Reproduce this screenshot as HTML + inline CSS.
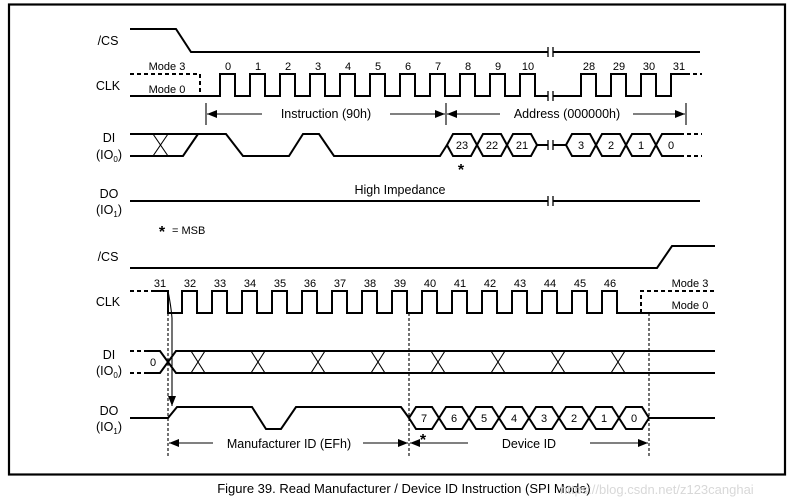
<!DOCTYPE html>
<html><head><meta charset="utf-8"><style>
html,body{margin:0;padding:0;background:#fff;}
svg{display:block;}
text{font-family:"Liberation Sans",Arial,sans-serif;fill:#000;}
</style></head><body>
<svg width="792" height="501" viewBox="0 0 792 501" xmlns="http://www.w3.org/2000/svg">
<defs>
<marker id="ar" markerWidth="10" markerHeight="8" refX="10" refY="4" orient="auto" markerUnits="userSpaceOnUse"><path d="M0,0 L10,4 L0,8 Z" fill="#000"/></marker>
</defs>
<rect x="9" y="4.5" width="776" height="470" fill="none" stroke="#000" stroke-width="2.2"/>

<g fill="none" stroke="#000" stroke-width="2" stroke-linejoin="miter">
<path d="M130 29 H176 L191 52 H548 M553 52 H700"/>
<path d="M130 96 H220 V74 H235 V96 H250 V74 H265 V96 H280 V74 H295 V96 H310 V74 H325 V96 H340 V74 H355 V96 H370 V74 H385 V96 H400 V74 H415 V96 H430 V74 H445 V96 H460 V74 H475 V96 H490 V74 H505 V96 H520 V74 H535 V96 H548"/>
<path d="M553 96 H581 V74 H596 V96 H611 V74 H626 V96 H641 V74 H656 V96 H671 V74 H686"/>
<path d="M686 74 H702 M130 74 H200 V96" stroke-dasharray="4,3"/>
<path d="M130 134 H226 L243 156 H289 L303 134 H319 L334 156 H440 L447 145"/>
<path d="M130 156 H183 L198 134"/>
<path d="M447 145 L453 134 H471 L477 145 L471 156 H453 Z M477 145 L483 134 H501 L507 145 L501 156 H483 Z M507 145 L513 134 H531 L537 145 L531 156 H513 Z M537 145 H548"/>
<path d="M553 145 H566 M566 145 L572 134 H590 L596 145 L590 156 H572 Z M596 145 L602 134 H620 L626 145 L620 156 H602 Z M626 145 L632 134 H650 L656 145 L650 156 H632 Z M680 134 H662 L656 145 L662 156 H680"/>
<path d="M680 134 H702 M680 156 H702" stroke-dasharray="4,3"/>
<path d="M130 201 H548 M553 201 H700"/>

<path d="M130 268 H657 L672 246 H715"/>
<path d="M155 291 H168 V313 H182 V291 H197 V313 H212 V291 H227 V313 H242 V291 H257 V313 H272 V291 H287 V313 H302 V291 H317 V313 H332 V291 H347 V313 H362 V291 H377 V313 H392 V291 H407 V313 H422 V291 H437 V313 H452 V291 H467 V313 H482 V291 H497 V313 H512 V291 H527 V313 H542 V291 H557 V313 H572 V291 H587 V313 H602 V291 H617 V313 H715"/>
<path d="M130 291 H155 M641 313 V291 H715" stroke-dasharray="4,3"/>
<path d="M130 351 H148 M130 373 H148" stroke-dasharray="4,3"/>
<path d="M148 351 H160 L176 373 H715 M148 373 H160 L176 351 H715"/>
<path d="M130 418 H168 L177 407 H252 L266 429 H281 L296 407 H401 L409 418"/>
<path d="M409 418 L416 407 H432 L439 418 L432 429 H416 Z M439 418 L446 407 H462 L469 418 L462 429 H446 Z M469 418 L476 407 H492 L499 418 L492 429 H476 Z M499 418 L506 407 H522 L529 418 L522 429 H506 Z M529 418 L536 407 H552 L559 418 L552 429 H536 Z M559 418 L566 407 H582 L589 418 L582 429 H566 Z M589 418 L596 407 H612 L619 418 L612 429 H596 Z M619 418 L626 407 H642 L649 418 L642 429 H626 Z M649 418 H715"/>
</g>

<g stroke="#000" stroke-width="1.3">
<path d="M548 47 V57 M553 47 V57 M548 91 V101 M553 91 V101 M548 140 V150 M553 140 V150 M548 196 V206 M553 196 V206"/>
</g>

<g stroke="#000" stroke-width="1.1" fill="none">
<path d="M153 134 L168 156 M153 156 L168 134"/>
<path d="M191 351 L205 373 M191 373 L205 351 M251 351 L265 373 M251 373 L265 351 M311 351 L325 373 M311 373 L325 351 M371 351 L385 373 M371 373 L385 351 M431 351 L445 373 M431 373 L445 351 M491 351 L505 373 M491 373 L505 351 M551 351 L565 373 M551 373 L565 351 M611 351 L625 373 M611 373 L625 351"/>
</g>

<g stroke="#000" stroke-width="1.1" fill="none">
<path d="M206 103 V125 M446 103 V125 M686 103 V125"/>
<path d="M262 114 H207" marker-end="url(#ar)"/>
<path d="M390 114 H445" marker-end="url(#ar)"/>
<path d="M500 114 H447" marker-end="url(#ar)"/>
<path d="M633 114 H685" marker-end="url(#ar)"/>
<path d="M168 313 V458 M409 313 V458 M649 313 V458" stroke-dasharray="3,2"/>
<path d="M213 443 H169" marker-end="url(#ar)"/>
<path d="M363 443 H408" marker-end="url(#ar)"/>
<path d="M468 443 H410" marker-end="url(#ar)"/>
<path d="M590 443 H648" marker-end="url(#ar)"/>
<path d="M168 291 Q171 306 172 318 V406" marker-end="url(#ar)"/>
</g>

<g font-size="12.5" text-anchor="middle">
<text x="108" y="45">/CS</text>
<text x="108" y="90">CLK</text>
<text x="109" y="142">DI</text>
<text x="109" y="159">(IO<tspan font-size="8" dy="3">0</tspan><tspan dy="-3">)</tspan></text>
<text x="109" y="198">DO</text>
<text x="109" y="214">(IO<tspan font-size="8" dy="3">1</tspan><tspan dy="-3">)</tspan></text>
<text x="108" y="261">/CS</text>
<text x="108" y="306">CLK</text>
<text x="109" y="359">DI</text>
<text x="109" y="375">(IO<tspan font-size="8" dy="3">0</tspan><tspan dy="-3">)</tspan></text>
<text x="109" y="415">DO</text>
<text x="109" y="431">(IO<tspan font-size="8" dy="3">1</tspan><tspan dy="-3">)</tspan></text>
<text x="326" y="118">Instruction (90h)</text>
<text x="567" y="118">Address (000000h)</text>
<text x="400" y="194">High Impedance</text>
<text x="289" y="448">Manufacturer ID (EFh)</text>
<text x="529" y="448">Device ID</text>
</g>
<g font-size="11" text-anchor="middle">
<text x="167" y="70">Mode 3</text>
<text x="167" y="93">Mode 0</text>
<text x="690" y="287">Mode 3</text>
<text x="690" y="309">Mode 0</text>
<text x="228" y="70">0</text><text x="258" y="70">1</text><text x="288" y="70">2</text><text x="318" y="70">3</text><text x="348" y="70">4</text><text x="378" y="70">5</text><text x="408" y="70">6</text><text x="438" y="70">7</text><text x="468" y="70">8</text><text x="498" y="70">9</text><text x="528" y="70">10</text>
<text x="589" y="70">28</text><text x="619" y="70">29</text><text x="649" y="70">30</text><text x="679" y="70">31</text>
<text x="462" y="149">23</text><text x="492" y="149">22</text><text x="522" y="149">21</text>
<text x="581" y="149">3</text><text x="611" y="149">2</text><text x="641" y="149">1</text><text x="671" y="149">0</text>
<text x="160" y="287">31</text><text x="190" y="287">32</text><text x="220" y="287">33</text><text x="250" y="287">34</text><text x="280" y="287">35</text><text x="310" y="287">36</text><text x="340" y="287">37</text><text x="370" y="287">38</text><text x="400" y="287">39</text><text x="430" y="287">40</text><text x="460" y="287">41</text><text x="490" y="287">42</text><text x="520" y="287">43</text><text x="550" y="287">44</text><text x="580" y="287">45</text><text x="610" y="287">46</text>
<text x="153" y="366">0</text>
<text x="424" y="422">7</text><text x="454" y="422">6</text><text x="484" y="422">5</text><text x="514" y="422">4</text><text x="544" y="422">3</text><text x="574" y="422">2</text><text x="604" y="422">1</text><text x="634" y="422">0</text>
</g>
<text x="461" y="175" font-size="16" font-weight="bold" text-anchor="middle">*</text>
<text x="423" y="445" font-size="16" font-weight="bold" text-anchor="middle">*</text>
<text x="162" y="237" font-size="16" font-weight="bold" text-anchor="middle">*</text>
<text x="172" y="234" font-size="11">= MSB</text>
<text x="404" y="493" font-size="13" text-anchor="middle">Figure 39. Read Manufacturer / Device ID Instruction (SPI Mode)</text>
<text x="560" y="494" font-size="13" style="fill:#d8d8d8">https://blog.csdn.net/z123canghai</text>
</svg>
</body></html>
